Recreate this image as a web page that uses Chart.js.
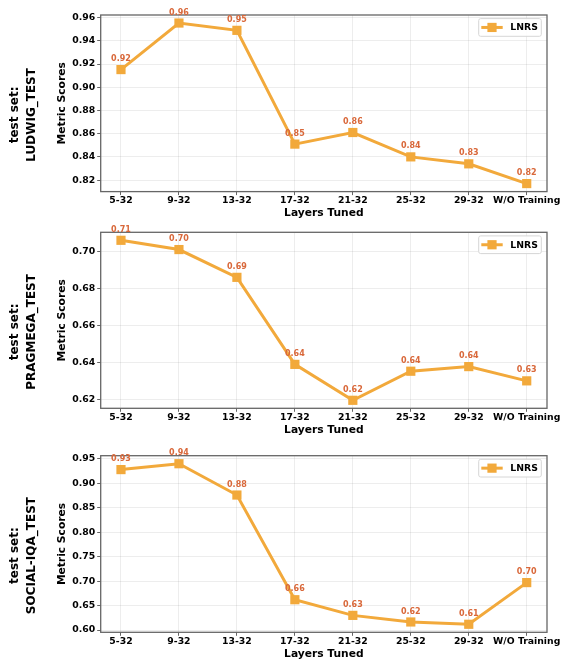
<!DOCTYPE html>
<html>
<head>
<meta charset="utf-8">
<script src="https://cdn.jsdelivr.net/npm/chart.js@4.4.1/dist/chart.umd.min.js"></script>
<style>
  html, body { margin: 0; padding: 0; background: #fff; }
  #wrap { position: relative; width: 564px; height: 661px; }
  canvas { position: absolute; left: 0; }
</style>
</head>
<body>
<div id="wrap">
  <canvas id="c1" width="564" height="220" style="top:0px"></canvas>
  <canvas id="c2" width="564" height="220" style="top:220px"></canvas>
  <canvas id="c3" width="564" height="221" style="top:440px"></canvas>
</div>
<script>
// data
const layerLabels = ['5-32', '9-32', '13-32', '17-32', '21-32', '25-32', '29-32', 'W/O Training'];
const seriesName = 'LNRS';
const testSets = ['LUDWIG_TEST', 'PRAGMEGA_TEST', 'SOCIAL-IQA_TEST'];

const ludwigScores = [0.9152, 0.9553, 0.949, 0.851, 0.861, 0.840, 0.834, 0.817];
const pragmegaScores = [0.706, 0.701, 0.686, 0.639, 0.6196, 0.6353, 0.6378, 0.6301];
const socialIqaScores = [0.928, 0.940, 0.876, 0.662, 0.630, 0.6165, 0.6118, 0.697];

const ludwigTicks = [0.82, 0.84, 0.86, 0.88, 0.90, 0.92, 0.94, 0.96];
const pragmegaTicks = [0.62, 0.64, 0.66, 0.68, 0.70];
const socialIqaTicks = [0.60, 0.65, 0.70, 0.75, 0.80, 0.85, 0.90, 0.95];

const FONT = "'DejaVu Sans', sans-serif";
const LINE_COLOR = '#F2A93B';
const LABEL_COLOR = '#D9683A';
const SPINE_COLOR = '#666666';

// plot area top/bottom inside each canvas
const panels = [
    { id: 'c1', name: testSets[0], scores: ludwigScores, ticks: ludwigTicks, top: 15, bottom: 191.7, height: 220 },
    { id: 'c2', name: testSets[1], scores: pragmegaScores, ticks: pragmegaTicks, top: 12.3, bottom: 188.3, height: 220 },
    { id: 'c3', name: testSets[2], scores: socialIqaScores, ticks: socialIqaTicks, top: 15.7, bottom: 192.3, height: 221 }
];

// frame around the plot area (all four spines)
const framePlugin = {
    id: 'frame',
    beforeDatasetsDraw(chart) {
        const a = chart.chartArea;
        const ctx = chart.ctx;
        ctx.save();
        ctx.strokeStyle = SPINE_COLOR;
        ctx.lineWidth = 1.3;
        ctx.strokeRect(a.left, a.top, a.right - a.left, a.bottom - a.top);
        ctx.restore();
    }
};

// value labels above each marker
const valueLabelPlugin = {
    id: 'valueLabels',
    afterDatasetsDraw(chart) {
        const ctx = chart.ctx;
        const meta = chart.getDatasetMeta(0);
        const data = chart.data.datasets[0].data;
        ctx.save();
        ctx.font = 'bold 8px ' + FONT;
        ctx.fillStyle = LABEL_COLOR;
        ctx.textAlign = 'center';
        ctx.textBaseline = 'middle';
        meta.data.forEach((pt, i) => {
            ctx.fillText(data[i].y.toFixed(2), pt.x, pt.y - 10.5);
        });
        ctx.restore();
    }
};

// legend box in the upper right corner of the plot
const legendBoxPlugin = {
    id: 'legendBox',
    afterDraw(chart) {
        const a = chart.chartArea;
        const ctx = chart.ctx;
        const w = 62.6, h = 17.7;
        const x = a.right - 5.7 - w;
        const y = a.top + 3.6;
        const cy = y + h / 2;
        ctx.save();
        ctx.fillStyle = 'rgba(255,255,255,0.85)';
        ctx.strokeStyle = '#d6d6d6';
        ctx.lineWidth = 1;
        ctx.beginPath();
        ctx.roundRect(x, y, w, h, 2);
        ctx.fill();
        ctx.stroke();
        ctx.strokeStyle = LINE_COLOR;
        ctx.lineWidth = 3;
        ctx.beginPath();
        ctx.moveTo(x + 2.6, cy);
        ctx.lineTo(x + 24, cy);
        ctx.stroke();
        ctx.fillStyle = LINE_COLOR;
        ctx.fillRect(x + 13.3 - 4.6, cy - 4.6, 9.2, 9.2);
        ctx.fillStyle = '#000';
        ctx.font = 'bold 9.3px ' + FONT;
        ctx.textAlign = 'left';
        ctx.textBaseline = 'middle';
        ctx.fillText(chart.data.datasets[0].label, x + 31.6, cy + 0.5);
        ctx.restore();
    }
};

// "test set:" row label on the far left
const rowLabelPlugin = {
    id: 'rowLabel',
    afterDraw(chart, args, opts) {
        const a = chart.chartArea;
        const ctx = chart.ctx;
        const cy = (a.top + a.bottom) / 2 + 11.6;
        ctx.save();
        ctx.font = 'bold 12px ' + FONT;
        ctx.fillStyle = '#000';
        ctx.textAlign = 'center';
        ctx.textBaseline = 'middle';
        [['test set:', 15], [opts.text, 31.7]].forEach(([t, cx]) => {
            ctx.save();
            ctx.translate(cx, cy);
            ctx.rotate(-Math.PI / 2);
            ctx.fillText(t, 0, 0);
            ctx.restore();
        });
        ctx.restore();
    }
};

panels.forEach(p => {
    const ctx = document.getElementById(p.id).getContext('2d');
    const lo = Math.min(...p.scores), hi = Math.max(...p.scores);
    const pad = (hi - lo) * 0.05;
    const xAxisHeight = 28.4;

    new Chart(ctx, {
        type: 'line',
        data: {
            datasets: [{
                label: seriesName,
                data: p.scores.map((v, i) => ({ x: i, y: v })),
                borderColor: LINE_COLOR,
                backgroundColor: LINE_COLOR,
                borderWidth: 3,
                pointStyle: 'rect',
                pointRadius: 6.5,
                pointBorderWidth: 0,
                pointBackgroundColor: LINE_COLOR,
                tension: 0,
                clip: false
            }]
        },
        options: {
            responsive: false,
            animation: false,
            events: [],
            layout: {
                padding: { left: 52, right: 17, top: p.top, bottom: Math.max(0, p.height - p.bottom - xAxisHeight) }
            },
            plugins: {
                legend: { display: false },
                tooltip: { enabled: false },
                rowLabel: { text: p.name }
            },
            scales: {
                x: {
                    type: 'linear',
                    min: -0.35,
                    max: layerLabels.length - 1 + 0.35,
                    afterBuildTicks: s => { s.ticks = layerLabels.map((_, i) => ({ value: i })); },
                    afterFit: s => { s.height = xAxisHeight; },
                    ticks: {
                        autoSkip: false,
                        maxRotation: 0,
                        padding: 0,
                        color: '#000',
                        font: { family: FONT, size: 9.3, weight: 'bold' },
                        callback: v => layerLabels[v]
                    },
                    grid: { color: 'rgba(0,0,0,0.07)', tickColor: SPINE_COLOR, tickLength: 3.5 },
                    border: { display: false },
                    title: {
                        display: true,
                        text: 'Layers Tuned',
                        color: '#000',
                        padding: { top: 0, bottom: 0 },
                        font: { family: FONT, size: 10.7, weight: 'bold' }
                    }
                },
                y: {
                    min: lo - pad,
                    max: hi + pad,
                    afterBuildTicks: s => { s.ticks = p.ticks.map(v => ({ value: v })); },
                    afterFit: s => { s.width = 48.7; },
                    ticks: {
                        padding: 2,
                        color: '#000',
                        font: { family: FONT, size: 9.3, weight: 'bold' },
                        callback: v => v.toFixed(2)
                    },
                    grid: { color: 'rgba(0,0,0,0.07)', tickColor: SPINE_COLOR, tickLength: 3.5 },
                    border: { display: false },
                    title: {
                        display: true,
                        text: 'Metric Scores',
                        color: '#000',
                        padding: { top: 4, bottom: 4 },
                        font: { family: FONT, size: 10.7, weight: 'bold' }
                    }
                }
            }
        },
        plugins: [framePlugin, valueLabelPlugin, legendBoxPlugin, rowLabelPlugin]
    });
});
</script>
</body>
</html>
